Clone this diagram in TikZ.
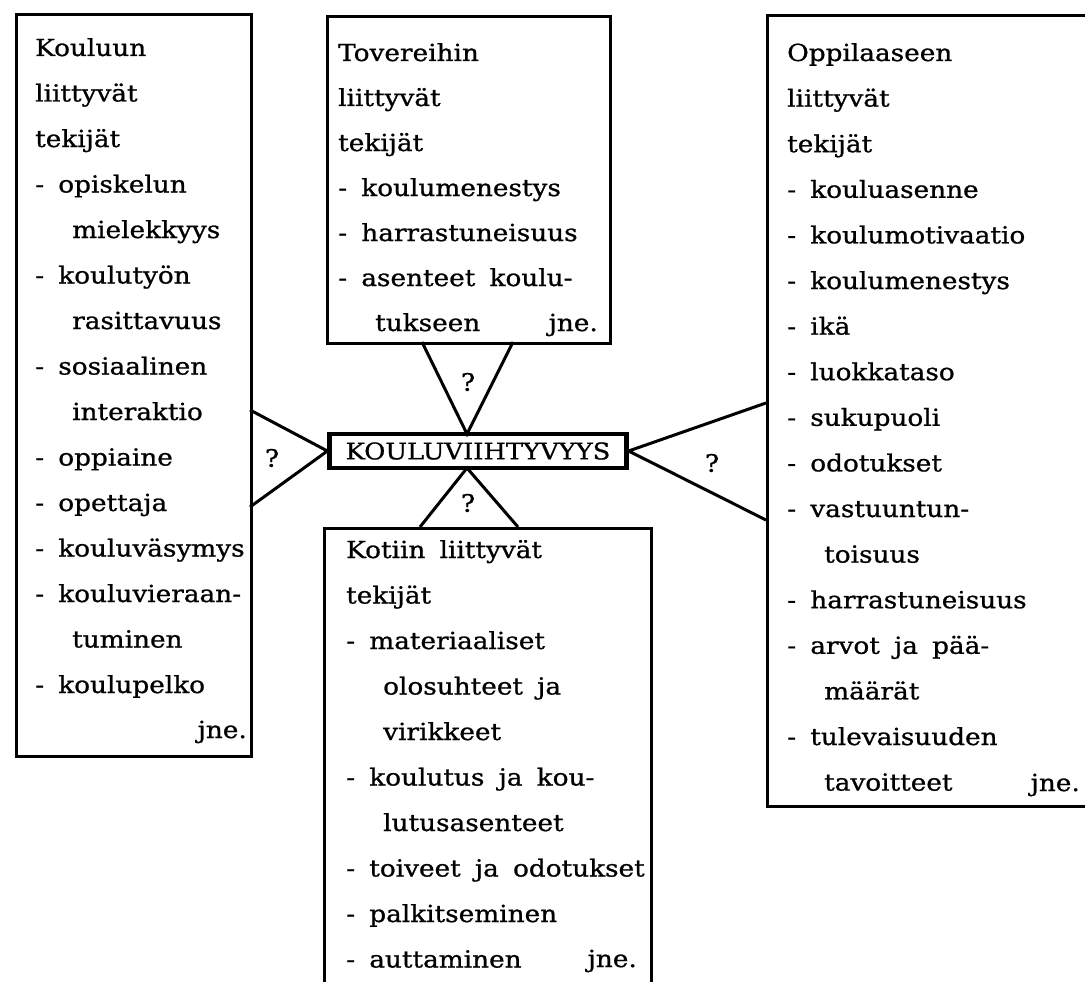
\documentclass[tikz,border=0pt]{standalone}
\usepackage{fontspec}
\setmainfont{DejaVu Serif}[FakeStretch=1.12, FakeBold=0.9, WordSpace=1.7]
\usetikzlibrary{positioning,calc}

\newcommand{\ind}{\hspace*{37pt}}

\begin{document}
\begin{tikzpicture}[
    x=1pt, y=-1pt,
    box/.style={rectangle, draw, line width=2.8pt, anchor=north west, inner sep=0pt},
    hub/.style={rectangle, draw, fill=white, line width=4.2pt, minimum width=297, minimum height=34, inner sep=0pt, font=\fontsize{23}{26}\selectfont},
    txt/.style={anchor=base west, inner sep=0pt, font=\fontsize{23.5}{28}\selectfont},
    rtxt/.style={txt, anchor=base east},
    link/.style={line width=3pt, line join=miter},
    ask/.style={inner sep=0pt, font=\fontsize{24}{28}\selectfont}
]
\useasboundingbox (0,0) rectangle (1085,982);

% Factor boxes
\node[box, minimum width=235, minimum height=742] (koulu) at (15,13) {};
\node[box, minimum width=283, minimum height=327] (toverit) at (326,15) {};
\node[box, minimum width=330, minimum height=791] (oppilas) at (766,14) {};
\node[box, minimum width=327, minimum height=470] (koti) at (323,527) {};

% Centre
\node[hub] (viiht) at (478,451) {KOULUVIIHTYVYYS};

% School
\foreach \t [count=\i from 0] in {Kouluun, liittyvät, tekijät, - opiskelun, \ind mielekkyys, - koulutyön, \ind rasittavuus, - sosiaalinen, \ind interaktio, - oppiaine, - opettaja, - kouluväsymys, - kouluvieraan-, \ind tuminen, - koulupelko}
    \node[txt] (koulu-\i) at (35, 56+45.5*\i) {\t};
\node[rtxt] (koulu-jne) at (247, 738) {jne.};

% Peers
\foreach \t [count=\i from 0] in {Tovereihin, liittyvät, tekijät, - koulumenestys, - harrastuneisuus, - asenteet koulu-, \ind tukseen}
    \node[txt] (toverit-\i) at (338, 61+45*\i) {\t};
\node[rtxt] (toverit-jne) at (598, 331) {jne.};

% Pupil
\foreach \t [count=\i from 0] in {Oppilaaseen, liittyvät, tekijät, - kouluasenne, - koulumotivaatio, - koulumenestys, - ikä, - luokkataso, - sukupuoli, - odotukset, - vastuuntun-, \ind toisuus, - harrastuneisuus, - arvot ja pää-, \ind määrät, - tulevaisuuden, \ind tavoitteet}
    \node[txt] (oppilas-\i) at (787, 61+45.6*\i) {\t};
\node[rtxt] (oppilas-jne) at (1080, 791) {jne.};

% Home
\foreach \t [count=\i from 0] in {Kotiin liittyvät, tekijät, - materiaaliset, \ind olosuhteet ja, \ind virikkeet, - koulutus ja kou-, \ind lutusasenteet, - toiveet ja odotukset, - palkitseminen, - auttaminen}
    \node[txt] (koti-\i) at (346, 558+45.5*\i) {\t};
\node[rtxt] (koti-jne) at (637, 967) {jne.};

% Connector ends
\coordinate (vn) at (467,434);
\coordinate (vs) at (467,468);
\coordinate (k1) at (250,410);
\coordinate (k2) at (250,507);
\coordinate (t1) at (422,342);
\coordinate (t2) at (513,342);
\coordinate (o1) at (766,403);
\coordinate (o2) at (766,520);
\coordinate (h1) at (420,527);
\coordinate (h2) at (518,527);

\draw[link] (k1) -- (viiht.west) -- (k2);
\draw[link] (t1) -- (vn) -- (t2);
\draw[link] (o1) -- (viiht.east) -- (o2);
\draw[link] (h1) -- (vs) -- (h2);

\node[ask] (q-koulu) at (272,458) {?};
\node[ask] (q-toverit) at (468,382) {?};
\node[ask] (q-oppilas) at (712,463) {?};
\node[ask] (q-koti) at (468,503) {?};

\end{tikzpicture}
\end{document}
